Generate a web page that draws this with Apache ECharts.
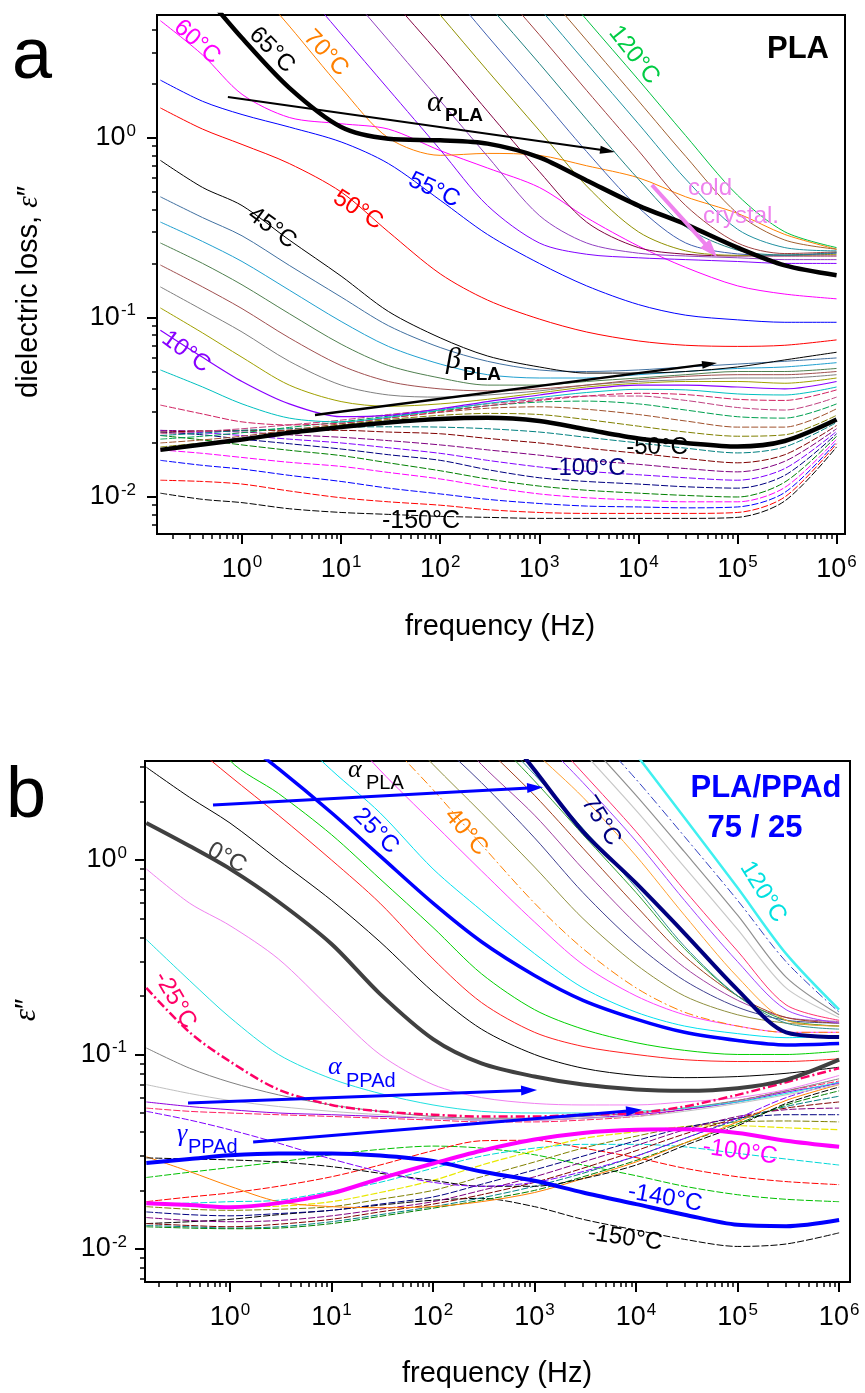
<!DOCTYPE html>
<html><head><meta charset="utf-8">
<script src="https://cdn.jsdelivr.net/npm/echarts@6/dist/echarts.min.js"></script>
<style>html,body{margin:0;padding:0;background:#fff}#c{width:865px;height:1393px}</style>
</head><body><div id="c"></div>
<script>
// ---------- frequency grid (Hz) ----------
const FREQ = [0.15, 0.4, 1, 3, 10, 30, 100, 300, 1e3, 3e3, 1e4, 3e4, 1e5, 3e5, 1e6];
const MAJOR_X = [1, 10, 100, 1e3, 1e4, 1e5, 1e6];
const MAJOR_Y = [0.01, 0.1, 1];

// ---------- panel a : PLA (dielectric loss) ----------
const aM150 = [0.0105,0.0097,0.0093,0.0086,0.0082,0.0080,0.0078,0.0077,0.0076,0.0076,0.0076,0.0076,0.0077,0.0095,0.0190];
const aM140 = [0.0124,0.0122,0.0118,0.0108,0.0099,0.0094,0.0090,0.0085,0.0082,0.0081,0.0081,0.0081,0.0082,0.0100,0.0198];
const aM130 = [0.0160,0.0150,0.0143,0.0132,0.0122,0.0112,0.0104,0.0097,0.0092,0.0089,0.0088,0.0087,0.0088,0.0106,0.0203];
const aM120 = [0.0183,0.0175,0.0166,0.0156,0.0148,0.0137,0.0126,0.0114,0.0104,0.0099,0.0096,0.0094,0.0094,0.0113,0.0210];
const aM110 = [0.0220,0.0208,0.0195,0.0182,0.0170,0.0155,0.0140,0.0126,0.0115,0.0109,0.0105,0.0102,0.0100,0.0121,0.0218];
const aM100 = [0.0230,0.0222,0.0210,0.0198,0.0185,0.0172,0.0160,0.0142,0.0128,0.0122,0.0118,0.0114,0.0112,0.0132,0.0225];
const aM90  = [0.0235,0.0228,0.0220,0.0210,0.0200,0.0188,0.0175,0.0160,0.0147,0.0139,0.0133,0.0128,0.0124,0.0144,0.0232];
const aM80  = [0.0235,0.0233,0.0230,0.0222,0.0215,0.0206,0.0195,0.0183,0.0171,0.0160,0.0152,0.0144,0.0138,0.0158,0.0240];
const aM70  = [0.0230,0.0233,0.0235,0.0235,0.0235,0.0230,0.0225,0.0212,0.0200,0.0187,0.0175,0.0164,0.0155,0.0172,0.0250];
const aM60  = [0.0220,0.0227,0.0235,0.0240,0.0245,0.0246,0.0245,0.0240,0.0230,0.0215,0.0200,0.0187,0.0176,0.0190,0.0260];
const aM50  = [0.0183,0.0196,0.0209,0.0228,0.0245,0.0260,0.0272,0.0276,0.0265,0.0238,0.0212,0.0200,0.0191,0.0205,0.0270];
const aM40  = [0.0190,0.0200,0.0212,0.0232,0.0252,0.0270,0.0285,0.0292,0.0288,0.0270,0.0248,0.0230,0.0218,0.0222,0.0285];
const aM30  = [0.0200,0.0208,0.0218,0.0236,0.0256,0.0276,0.0296,0.0312,0.0318,0.0308,0.0288,0.0265,0.0245,0.0245,0.0310];
const aM20  = [0.0210,0.0218,0.0228,0.0244,0.0262,0.0282,0.0302,0.0322,0.0338,0.0342,0.0330,0.0305,0.0280,0.0275,0.0330];
const aM10  = [0.0225,0.0232,0.0240,0.0252,0.0268,0.0288,0.0308,0.0330,0.0350,0.0365,0.0365,0.0345,0.0315,0.0305,0.0360];
const aP0   = [0.0325,0.0290,0.0262,0.0252,0.0258,0.0275,0.0298,0.0322,0.0345,0.0365,0.0378,0.0372,0.0350,0.0345,0.0395];
const aP5   = [0.051,0.041,0.033,0.0275,0.0262,0.0278,0.0305,0.0332,0.0358,0.0382,0.0398,0.0395,0.0375,0.0370,0.041];
const aP10  = [0.085,0.060,0.044,0.033,0.028,0.0285,0.031,0.034,0.037,0.040,0.042,0.042,0.041,0.040,0.044];
const aP15  = [0.113,0.082,0.060,0.042,0.034,0.032,0.033,0.035,0.038,0.041,0.043,0.044,0.044,0.043,0.046];
const aP20  = [0.148,0.110,0.083,0.057,0.042,0.037,0.036,0.037,0.039,0.042,0.044,0.045,0.046,0.046,0.048];
const aP25  = [0.196,0.148,0.112,0.077,0.054,0.044,0.040,0.039,0.040,0.042,0.045,0.047,0.048,0.048,0.050];
const aP30  = [0.26,0.20,0.152,0.105,0.071,0.054,0.046,0.042,0.042,0.044,0.046,0.048,0.050,0.050,0.052];
const aP35  = [0.34,0.265,0.205,0.142,0.095,0.069,0.055,0.048,0.046,0.046,0.048,0.050,0.052,0.053,0.056];
const aP40  = [0.47,0.36,0.285,0.195,0.13,0.090,0.068,0.057,0.051,0.050,0.051,0.053,0.055,0.057,0.0595];
const aP45  = [0.75,0.53,0.42,0.27,0.17,0.108,0.077,0.061,0.053,0.049,0.049,0.050,0.053,0.058,0.064];
const aP50  = [1.47,1.12,0.92,0.72,0.50,0.30,0.175,0.125,0.098,0.083,0.074,0.070,0.069,0.070,0.075];
const aP55  = [2.1,1.6,1.35,1.15,0.95,0.72,0.45,0.29,0.20,0.15,0.118,0.103,0.097,0.094,0.094];
const aP60  = [4.5,2.9,1.75,1.3,1.2,1.12,0.85,0.68,0.53,0.36,0.25,0.19,0.15,0.135,0.127];
const aP65  = [12,6.5,3.6,1.9,1.15,0.99,0.97,0.93,0.78,0.58,0.42,0.33,0.245,0.195,0.172];
const aP70  = [null,16,8.5,4.2,1.9,1.0,0.80,0.82,0.80,0.70,0.60,0.47,0.38,0.29,0.24];
const aP75  = [null,null,null,8.3,3.8,1.87,0.86,0.42,0.26,0.225,0.215,0.21,0.205,0.20,0.20];
const aP80  = [null,null,null,15.4,7.1,3.5,1.61,0.79,0.37,0.26,0.228,0.22,0.215,0.21,0.21];
const aP85  = [null,null,null,null,12.7,6.2,2.9,1.41,0.65,0.34,0.245,0.225,0.22,0.22,0.22];
const aP90  = [null,null,null,null,null,10.5,4.84,2.37,1.1,0.54,0.30,0.235,0.222,0.222,0.225];
const aP95  = [null,null,null,null,null,16.4,7.6,3.7,1.71,0.84,0.41,0.26,0.226,0.222,0.228];
const aP100 = [null,null,null,null,null,null,11.5,5.6,2.6,1.27,0.59,0.32,0.237,0.223,0.23];
const aP105 = [null,null,null,null,null,null,16.6,8.1,3.76,1.84,0.85,0.42,0.26,0.227,0.232];
const aP110 = [null,null,null,null,null,null,null,11.5,5.3,2.6,1.2,0.59,0.31,0.245,0.235];
const aP115 = [null,null,null,null,null,null,null,15.4,7.1,3.5,1.61,0.79,0.38,0.27,0.24];
const aP120 = [null,null,null,null,null,null,null,null,9.3,4.56,2.11,1.03,0.48,0.30,0.245];

// ---------- panel b : PLA/PPAd 75/25 ----------
const bM150 = [0.0135,0.0138,0.0142,0.0150,0.0158,0.0168,0.0178,0.0182,0.0165,0.0142,0.0125,0.0112,0.0103,0.0106,0.0121];
const bM140 = [0.0277,0.0290,0.0303,0.0310,0.0310,0.0302,0.0283,0.0250,0.0224,0.0195,0.0170,0.0150,0.0133,0.0131,0.0141];
const bM135 = [0.0233,0.0248,0.0262,0.0280,0.0305,0.0325,0.0338,0.0330,0.0305,0.0270,0.0238,0.0210,0.0190,0.0180,0.0175];
const bM130 = [0.0175,0.0185,0.0194,0.0210,0.0235,0.0270,0.0320,0.0360,0.0362,0.0330,0.0295,0.0260,0.0235,0.0222,0.0214];
const bM120 = [0.0170,0.0172,0.0175,0.0178,0.0198,0.0220,0.0260,0.0300,0.0330,0.0345,0.0345,0.0335,0.0310,0.0290,0.0270];
const bM100 = [0.0172,0.0168,0.0164,0.0172,0.0193,0.0230,0.0275,0.0320,0.0365,0.0395,0.0410,0.0412,0.0395,0.0360,0.0335];
const bM90  = [0.0172,0.0168,0.0165,0.0166,0.0175,0.0195,0.0225,0.0270,0.0320,0.0370,0.0400,0.0425,0.0430,0.0420,0.0410];
const bM80  = [0.0165,0.0160,0.0158,0.0160,0.0165,0.0180,0.0200,0.0235,0.0280,0.0330,0.0380,0.0425,0.0450,0.0455,0.0450];
const bM70  = [0.0155,0.0150,0.0148,0.0152,0.0158,0.0170,0.0185,0.0215,0.0255,0.0300,0.0360,0.0420,0.0470,0.0490,0.0490];
const bM60  = [0.0145,0.0140,0.0138,0.0140,0.0148,0.0160,0.0175,0.0200,0.0235,0.0280,0.0340,0.0410,0.0480,0.0520,0.0530];
const bM55  = [0.0135,0.0132,0.0130,0.0134,0.0142,0.0155,0.0170,0.0190,0.0220,0.0260,0.0320,0.0390,0.0470,0.0530,0.0570];
const bM50  = [0.0132,0.0130,0.0128,0.0130,0.0138,0.0150,0.0165,0.0183,0.0210,0.0245,0.0300,0.0370,0.0460,0.0540,0.0610];
const bM45  = [0.0130,0.0128,0.0127,0.0128,0.0135,0.0147,0.0162,0.0178,0.0200,0.0235,0.0285,0.0350,0.0440,0.0550,0.0650];
const bM42  = [0.0298,0.0250,0.0210,0.0175,0.0165,0.0163,0.0165,0.0175,0.0195,0.0230,0.0280,0.0350,0.0450,0.0580,0.0700];
const bM40  = [0.0294,0.0290,0.0287,0.0280,0.0265,0.0245,0.0225,0.0210,0.0210,0.0230,0.0270,0.0340,0.0430,0.0560,0.0680];
const bM38  = [0.0510,0.0460,0.0410,0.0350,0.0290,0.0250,0.0220,0.0210,0.0220,0.0250,0.0300,0.0370,0.0470,0.0600,0.0720];
const bM35  = [0.0530,0.0510,0.0500,0.0490,0.0480,0.0470,0.0460,0.0450,0.0450,0.0460,0.0480,0.0520,0.0580,0.0650,0.0730];
const bM33  = [0.0570,0.0540,0.0520,0.0500,0.0490,0.0480,0.0470,0.0460,0.0460,0.0470,0.0490,0.0520,0.0570,0.0640,0.0710];
const bM32  = [0.0700,0.0630,0.0580,0.0540,0.0510,0.0490,0.0470,0.0460,0.0460,0.0470,0.0480,0.0510,0.0560,0.0620,0.0700];
const bM30  = [0.108,0.085,0.072,0.062,0.055,0.051,0.048,0.047,0.047,0.048,0.050,0.053,0.058,0.065,0.075];
const bM25  = [0.22,0.13,0.092,0.066,0.055,0.051,0.049,0.048,0.048,0.049,0.050,0.054,0.062,0.072,0.085];
const bM10  = [0.39,0.24,0.155,0.10,0.075,0.063,0.055,0.051,0.050,0.050,0.051,0.053,0.057,0.063,0.072];
const bM5   = [0.90,0.60,0.46,0.31,0.17,0.10,0.070,0.060,0.056,0.055,0.055,0.057,0.060,0.066,0.078];
const bP0   = [1.55,1.18,0.90,0.61,0.37,0.205,0.120,0.090,0.077,0.070,0.066,0.065,0.067,0.074,0.094];
const bP5   = [3.0,2.1,1.55,1.0,0.62,0.38,0.21,0.135,0.10,0.085,0.078,0.076,0.077,0.080,0.086];
const bP10  = [6.0,4.0,2.7,1.7,1.0,0.6,0.31,0.185,0.13,0.11,0.10,0.094,0.092,0.092,0.095];
const bP15  = [null,7.0,3.25,2.2,1.35,0.8,0.45,0.26,0.17,0.135,0.115,0.105,0.10,0.10,0.104];
const bP25  = [null,7.0,4.6,2.95,1.75,1.05,0.60,0.38,0.255,0.19,0.152,0.13,0.118,0.112,0.114];
const bP30  = [null,null,9.5,5.3,2.9,1.75,0.90,0.55,0.33,0.22,0.165,0.14,0.128,0.122,0.125];
const bP35  = [null,null,null,null,5.5,2.9,1.55,0.88,0.48,0.29,0.20,0.16,0.14,0.13,0.13];
const bP40  = [null,null,null,null,9.0,4.5,2.3,1.2,0.60,0.35,0.22,0.165,0.14,0.13,0.13];
const bP45  = [null,null,null,null,null,6.0,3.1,1.75,0.92,0.50,0.29,0.20,0.16,0.145,0.14];
const bP50  = [null,null,null,null,null,8.0,4.3,2.5,1.3,0.68,0.37,0.24,0.175,0.15,0.145];
const bP55  = [null,null,null,null,null,null,5.8,3.1,1.7,0.90,0.47,0.28,0.19,0.155,0.148];
const bP60  = [null,null,null,null,null,null,7.4,4.0,2.15,1.15,0.58,0.32,0.20,0.155,0.145];
const bP65  = [null,null,null,null,null,null,9.0,4.9,2.55,1.35,0.68,0.35,0.20,0.15,0.14];
const bP70  = [null,null,null,null,null,null,9.8,5.3,2.75,1.45,0.72,0.36,0.20,0.145,0.135];
const bP75  = [null,null,null,null,null,null,null,6.5,2.9,1.4,0.76,0.42,0.215,0.13,0.123];
const bP80  = [null,null,null,null,null,null,null,6.6,3.6,2.1,1.05,0.52,0.25,0.15,0.14];
const bP85  = [null,null,null,null,null,null,null,null,4.5,2.5,1.25,0.62,0.30,0.17,0.145];
const bP90  = [null,null,null,null,null,null,null,null,5.2,2.8,1.4,0.70,0.34,0.18,0.15];
const bP100 = [null,null,null,null,null,null,null,null,null,3.6,1.8,0.92,0.44,0.22,0.155];
const bP105 = [null,null,null,null,null,null,null,null,null,4.3,2.15,1.1,0.52,0.25,0.16];
const bP115 = [null,null,null,null,null,null,null,null,null,5.2,2.6,1.32,0.62,0.30,0.165];
const bP120 = [null,null,null,null,null,null,null,null,null,8.0,3.5,1.65,0.72,0.33,0.17];

// ---------- styling tables (data, color, width, dash) ----------
const D = [7, 2], DD = [9, 3, 2, 3];
const STYLE_A = [
  [aM150,'#000000',1,D],[aM140,'#FF0000',1,D],[aM130,'#0000FF',1,D],[aM120,'#FF00FF',1,D],
  [aM110,'#008000',1,D],[aM100,'#000080',1,D],[aM90,'#8000FF',1,D],[aM80,'#800080',1,D],
  [aM70,'#800000',1,D],[aM60,'#008080',1,D],[aM40,'#808000',1,D],[aM30,'#A0522D',1,D],
  [aM20,'#00A050',1,D],[aM10,'#C04080',1,D],
  [aP0,'#D02060',1,D],[aP5,'#00C0C0',1,'solid'],[aP10,'#8800FF',1.2,'solid'],[aP15,'#A0A000',1,'solid'],
  [aP20,'#808080',1,'solid'],[aP25,'#A05050',1,'solid'],[aP30,'#508050',1,'solid'],[aP35,'#20A0D0',1,'solid'],
  [aP40,'#4070A0',1,'solid'],[aP45,'#000000',1,'solid'],[aP50,'#FF0000',1,'solid'],[aP55,'#0000FF',1,'solid'],
  [aP60,'#FF00FF',1,'solid'],[aP70,'#FF8000',1,'solid'],[aP75,'#8000FF',1,'solid'],
  [aP80,'#9040C0',1,'solid'],[aP85,'#800040',1,'solid'],[aP90,'#909000',1,'solid'],[aP95,'#4060B0',1,'solid'],
  [aP100,'#208080',1,'solid'],[aP105,'#A04040',1,'solid'],[aP110,'#2090A0',1,'solid'],[aP115,'#A06030',1,'solid'],
  [aP120,'#00C040',1,'solid'],
  [aM50,'#000000',4.5,'solid'],[aP65,'#000000',4.5,'solid']
];
const STYLE_B = [
  [bM150,'#000000',1,D],[bM135,'#00C000',1,D],[bM130,'#FF0000',1,D],[bM120,'#00D8D8',1,D],
  [bM90,'#E8E800',1.2,D],[bM80,'#808000',1,D],[bM70,'#000080',1,D],[bM60,'#800080',1,D],
  [bM55,'#800000',1,D],[bM50,'#008080',1,D],[bM45,'#008000',1,D],[bM42,'#FF8000',1,'solid'],
  [bM40,'#000000',1,D],[bM38,'#8000FF',1,D],[bM35,'#FF2060',1,D],[bM33,'#9000E0',1,'solid'],
  [bM32,'#C0C0C0',1,'solid'],[bM30,'#808080',1,'solid'],[bM10,'#20E0E0',1,'solid'],[bM5,'#F080F0',1,'solid'],
  [bP5,'#000000',1,'solid'],[bP10,'#FF2020',1,'solid'],[bP15,'#00D000',1,'solid'],[bP30,'#00E0F0',1,'solid'],
  [bP35,'#FF40FF',1,'solid'],[bP40,'#FF8000',1,DD],[bP45,'#909040',1,'solid'],[bP50,'#404090',1,'solid'],
  [bP55,'#A040A0',1,'solid'],[bP60,'#A04020',1,'solid'],[bP65,'#30A030',1,'solid'],[bP70,'#309090',1,'solid'],
  [bP80,'#FFA030',1,'solid'],[bP85,'#A040FF',1,'solid'],[bP90,'#FF3070',1,'solid'],[bP100,'#C8C8C8',1.2,'solid'],
  [bP105,'#909090',1.2,'solid'],[bP115,'#3040C0',1,DD],[bP120,'#40F0F0',2.5,'solid'],
  [bM25,'#FF0066',2.5,DD],[bM140,'#0000FF',4,'solid'],[bM100,'#FF00FF',4,'solid'],
  [bP0,'#404040',4,'solid'],[bP25,'#0000FF',3.5,'solid'],[bP75,'#000080',4,'solid']
];

// arrows (data coordinates: [f1, e1, f2, e2])
const ARROWS_A = [
  {p:[0.72, 1.69, 5800, 0.836], c:'#000000', w:2, L:15, W:8},
  {p:[5.45, 0.0286, 62100, 0.0558], c:'#000000', w:2.5, L:15, W:8},
  {p:[13700, 0.547, 62100, 0.217], c:'#EE82EE', w:4, L:18, W:13}
];
const ARROWS_B = [
  {p:[0.68, 1.92, 1213, 2.37], c:'#0000FF', w:3, L:16, W:10},
  {p:[0.386, 0.0563, 1059, 0.0657], c:'#0000FF', w:3, L:16, W:10},
  {p:[1.69, 0.0355, 11450, 0.0519], c:'#0000FF', w:3, L:16, W:10}
];

const FONT = 'Liberation Sans, Arial, Helvetica, sans-serif';
const SERIF = 'Liberation Serif, Times New Roman, serif';

function minorTicks(lo, hi) {
  const out = [];
  for (let d = lo; d <= hi; d++) for (let k = 2; k <= 9; k++) out.push(+(k * Math.pow(10, d)).toPrecision(3));
  return out;
}
const MINOR_X = minorTicks(-1, 5);
const MINOR_Y = minorTicks(-3, 0);

function supFmt(v) {
  const e = Math.round(Math.log10(v));
  return '{b|10}{s|' + (e < 0 ? '-' + (-e) : e) + '}';
}
const RICH = {
  b: {fontSize: 27, fontFamily: FONT, color: '#000'},
  s: {fontSize: 17, fontFamily: FONT, color: '#000', verticalAlign: 'top', padding: [0, 0, 14, 1]}
};

function axesFor(gi, xr, yr, xm, ym) {
  const common = {type: 'log', logBase: 10, gridIndex: gi, splitLine: {show: false}};
  const xs = [
    Object.assign({}, common, {min: xr[0], max: xr[1], position: 'bottom',
      axisLine: {lineStyle: {color: '#000', width: 2}},
      axisTick: {customValues: MAJOR_X, length: 10, lineStyle: {color: '#000', width: 2}},
      axisLabel: {customValues: MAJOR_X, formatter: supFmt, rich: RICH, margin: xm}}),
    Object.assign({}, common, {min: xr[0], max: xr[1], position: 'bottom',
      axisLine: {show: false},
      axisTick: {customValues: MINOR_X, length: 5, lineStyle: {color: '#000', width: 1.5}},
      axisLabel: {show: false}})
  ];
  const ys = [
    Object.assign({}, common, {min: yr[0], max: yr[1], position: 'left',
      axisLine: {lineStyle: {color: '#000', width: 2}},
      axisTick: {customValues: MAJOR_Y, length: 10, lineStyle: {color: '#000', width: 2}},
      axisLabel: {customValues: MAJOR_Y, formatter: supFmt, rich: RICH, margin: ym}}),
    Object.assign({}, common, {min: yr[0], max: yr[1], position: 'left',
      axisLine: {show: false},
      axisTick: {customValues: MINOR_Y, length: 5, lineStyle: {color: '#000', width: 1.5}},
      axisLabel: {show: false}})
  ];
  return {xs, ys};
}

const A = axesFor(0, [0.1387, 1.216e6], [0.00622, 4.84], 20, 21);
const B = axesFor(1, [0.1455, 1.28e6], [0.00676, 3.23], 20, 18);

function lineSeries(tbl, xi, yi) {
  return tbl.map((r) => ({
    type: 'line', xAxisIndex: xi, yAxisIndex: yi,
    data: FREQ.map((f, i) => [f, r[0][i] == null ? '-' : r[0][i]]),
    showSymbol: false, symbol: 'none', smooth: 0.3, clip: true, silent: true,
    lineStyle: {color: r[1], width: r[2], type: r[3]}, z: r[2] > 2 ? 5 : 2
  }));
}

function T(text, x, y, o) {
  o = o || {};
  const font = (o.it ? 'italic ' : '') + (o.bold ? 'bold ' : '') + (o.s || 24) + 'px ' + (o.f || FONT);
  return {type: 'text', x: x, y: y, rotation: (o.rot || 0) * Math.PI / 180, z: 100, silent: true,
    style: {text: text, fill: o.c || '#000', font: font, align: o.al || 'center', verticalAlign: 'middle',
            textAlign: o.al || 'center', textVerticalAlign: 'middle'}};
}

const LABELS = [
  // panel a
  T('a', 32, 58, {s: 72}),
  T('PLA', 798, 49, {s: 31, bold: true}),
  T('60°C', 197, 42, {c: '#FF00FF', rot: -42}),
  T('65°C', 272, 50, {rot: -45}),
  T('70°C', 326, 53, {c: '#FF8000', rot: -47}),
  T('120°C', 634, 55, {c: '#00CC44', rot: -52}),
  T('55°C', 434, 190, {c: '#0000FF', rot: -25}),
  T('50°C', 358, 210, {c: '#FF0000', rot: -32}),
  T('45°C', 272, 228, {rot: -36}),
  T('10°C', 186, 352, {c: '#8800FF', rot: -36}),
  T('-50°C', 657, 447, {}),
  T('-100°C', 588, 468, {c: '#000080'}),
  T('-150°C', 421, 521, {s: 25}),
  T('cold', 688, 188, {c: '#EE82EE', s: 24, al: 'left'}),
  T('crystal.', 703, 216, {c: '#EE82EE', s: 24, al: 'left'}),
  T('α', 427, 103, {s: 30, it: true, f: SERIF, al: 'left'}),
  T('PLA', 445, 116, {s: 19, bold: true, al: 'left'}),
  T('β', 446, 360, {s: 30, it: true, f: SERIF, al: 'left'}),
  T('PLA', 463, 375, {s: 19, bold: true, al: 'left'}),
  T('frequency (Hz)', 500, 627, {s: 29}),
  // panel b
  T('b', 26, 797, {s: 72}),
  T('PLA/PPAd', 766, 788, {s: 31, bold: true, c: '#0000FF'}),
  T('75 / 25', 755, 828, {s: 31, bold: true, c: '#0000FF'}),
  T('0°C', 227, 858, {c: '#404040', rot: -28}),
  T('25°C', 376, 831, {c: '#0000FF', rot: -45}),
  T('40°C', 466, 832, {c: '#FF8000', rot: -50}),
  T('75°C', 601, 821, {c: '#000080', rot: -58}),
  T('120°C', 763, 892, {c: '#00E0E0', rot: -58}),
  T('-25°C', 175, 1000, {c: '#FF0066', rot: -60}),
  T('-100°C', 740, 1152, {c: '#FF00FF', rot: -8}),
  T('-140°C', 665, 1198, {c: '#0000FF', rot: -10}),
  T('-150°C', 625, 1238, {rot: -8}),
  T('α', 348, 770, {s: 26, it: true, f: SERIF, al: 'left'}),
  T('PLA', 366, 783, {s: 20, al: 'left'}),
  T('α', 328, 1067, {s: 26, it: true, f: SERIF, c: '#0000FF', al: 'left'}),
  T('PPAd', 346, 1081, {s: 20, c: '#0000FF', al: 'left'}),
  T('γ', 177, 1134, {s: 26, it: true, f: SERIF, c: '#0000FF', al: 'left'}),
  T('PPAd', 188, 1147, {s: 20, c: '#0000FF', al: 'left'}),
  T('frequency (Hz)', 497, 1374, {s: 29}),
  // y titles
  {type: 'text', x: 29, y: 292, rotation: Math.PI / 2, z: 100, silent: true,
   style: {text: '{n|dielectric loss, }{i|ε}{n|″}', align: 'center', verticalAlign: 'middle',
           textAlign: 'center', textVerticalAlign: 'middle',
           rich: {n: {font: '29px ' + FONT, fill: '#000'}, i: {font: 'italic 29px ' + SERIF, fill: '#000'}}}},
  {type: 'text', x: 27, y: 1010, rotation: Math.PI / 2, z: 100, silent: true,
   style: {text: '{i|ε}{n|″}', align: 'center', verticalAlign: 'middle',
           textAlign: 'center', textVerticalAlign: 'middle',
           rich: {n: {font: '29px ' + FONT, fill: '#000'}, i: {font: 'italic 31px ' + SERIF, fill: '#000'}}}}
];

const chart = echarts.init(document.getElementById('c'), null, {renderer: 'canvas'});
const seriesA = lineSeries(STYLE_A, 0, 0);
const seriesB = lineSeries(STYLE_B, 2, 2);
chart.setOption({
  animation: false,
  backgroundColor: '#fff',
  grid: [
    {left: 157, top: 15, width: 688, height: 519, show: true, borderColor: '#000', borderWidth: 2, backgroundColor: 'transparent'},
    {left: 145, top: 761, width: 705, height: 521, show: true, borderColor: '#000', borderWidth: 2, backgroundColor: 'transparent'}
  ],
  xAxis: A.xs.concat(B.xs),
  yAxis: A.ys.concat(B.ys),
  series: seriesA.concat(seriesB)
});

// arrows: endpoints converted through the chart's own axes
function arrowEls(list, seriesIndex) {
  const out = [];
  list.forEach(a => {
    const p1 = chart.convertToPixel({seriesIndex: seriesIndex}, [a.p[0], a.p[1]]);
    const p2 = chart.convertToPixel({seriesIndex: seriesIndex}, [a.p[2], a.p[3]]);
    const ang = Math.atan2(p2[1] - p1[1], p2[0] - p1[0]);
    const cx = Math.cos(ang), sy = Math.sin(ang);
    const bx = p2[0] - a.L * cx, by = p2[1] - a.L * sy;
    out.push({type: 'line', z: 90, silent: true,
      shape: {x1: p1[0], y1: p1[1], x2: bx + 2 * cx, y2: by + 2 * sy},
      style: {stroke: a.c, lineWidth: a.w}});
    out.push({type: 'polygon', z: 90, silent: true,
      shape: {points: [[p2[0], p2[1]], [bx - a.W / 2 * sy, by + a.W / 2 * cx], [bx + a.W / 2 * sy, by - a.W / 2 * cx]]},
      style: {fill: a.c}});
  });
  return out;
}
const ARROW_ELS = arrowEls(ARROWS_A, 0).concat(arrowEls(ARROWS_B, seriesA.length));
chart.setOption({graphic: {elements: LABELS.concat(ARROW_ELS)}});
</script>
</body></html>
